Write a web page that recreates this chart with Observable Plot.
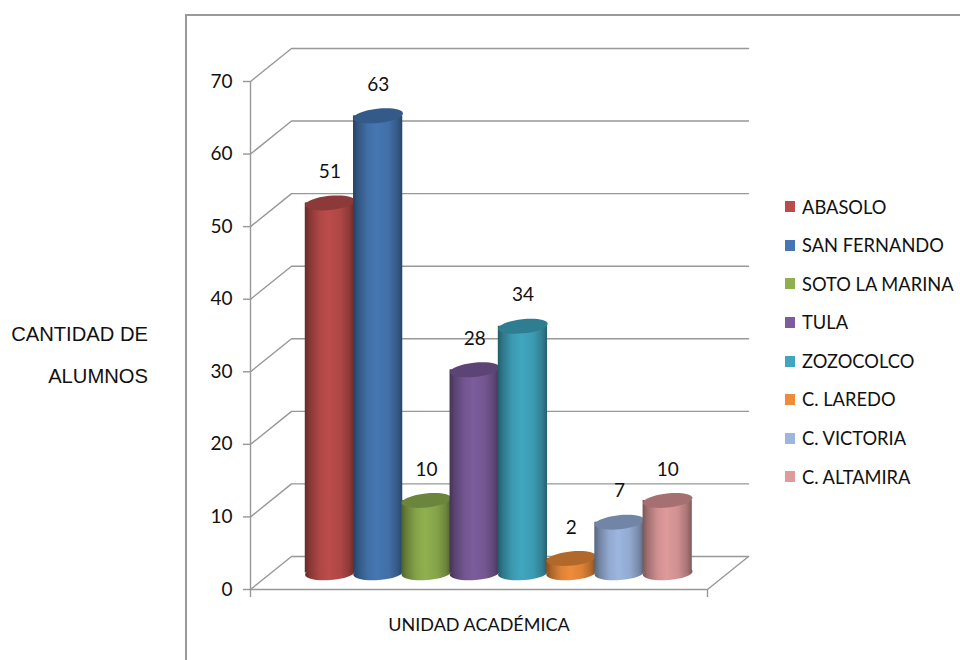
<!DOCTYPE html>
<html lang="es">
<head>
<meta charset="utf-8">
<script src="https://cdn.jsdelivr.net/npm/d3@7"></script>
<script src="https://cdn.jsdelivr.net/npm/@observablehq/plot@0.6"></script>
<style>
  html, body { margin: 0; padding: 0; background: #fff; }
  #page { position: relative; width: 960px; height: 660px; overflow: hidden; }
  #frame { position: absolute; left: 185px; top: 13.5px; right: -4px; bottom: -4px;
           border: 2px solid #999; box-sizing: border-box; }
  #chart { position: absolute; left: 0; top: 0; }
  #ylab { position: absolute; left: 0; top: 313px; width: 148px; text-align: right;
          font: 20.2px/42px "Liberation Sans", sans-serif; color: #111; }
  #legend { position: absolute; left: 785px; top: 187.5px; font: 18.3px/38.6px Lato, sans-serif; color: #111; }
  #legend div { display: flex; align-items: center; height: 38.6px; white-space: nowrap; }
  #legend i { display: inline-block; width: 10px; height: 11px; margin-right: 7px; }
</style>
</head>
<body>
<div id="page">
  <div id="frame"></div>
  <div id="chart"></div>
  <div id="ylab">CANTIDAD DE<br>ALUMNOS</div>
  <div id="legend"></div>
</div>
<script>
const categories = ["ABASOLO", "SAN FERNANDO", "SOTO LA MARINA", "TULA", "ZOZOCOLCO", "C. LAREDO", "C. VICTORIA", "C. ALTAMIRA"];
const values = [51, 63, 10, 28, 34, 2, 7, 10];
const bodyColors = ["#bb4c4a", "#4677b2", "#8fb04f", "#7c5c9c", "#40a6bf", "#ee8c3a", "#9db6e0", "#df9a9b"];
const topColors = ["#8c3a39", "#335a88", "#6c853d", "#5c4576", "#2f7d90", "#b0682b", "#7186a6", "#a66f71"];
const yTicks = [0, 10, 20, 30, 40, 50, 60, 70];

// Layout of the fake 3D box, in scale units
const xMax = 9.47, depthX = 0.85, depthY = 4.55, firstBar = 1.645, barFloor = 2.27;
const gridColor = "#989898";
const rx = 24.9, squash = 0.285;

// tilted ellipse symbol for the cylinder caps
const ellipse = (degrees) => {
  const tilt = degrees * Math.PI / 180;
  return {
    draw(ctx, size) {
      const a = Math.sqrt(size / Math.PI), b = a * squash, k = 0.5523;
      const c = Math.cos(tilt), s = Math.sin(tilt);
      const P = (x, y) => [x * c - y * s, x * s + y * c];
      const curve = (x1, y1, x2, y2, x3, y3) => ctx.bezierCurveTo(...P(x1, y1), ...P(x2, y2), ...P(x3, y3));
      ctx.moveTo(...P(a, 0));
      curve(a, k * b, k * a, b, 0, b);
      curve(-k * a, b, -a, k * b, -a, 0);
      curve(-a, -k * b, -k * a, -b, 0, -b);
      curve(k * a, -b, a, -k * b, a, 0);
      ctx.closePath();
    }
  };
};

const shade = (color, f) => { const c = d3.rgb(color); return d3.rgb(c.r * f, c.g * f, c.b * f).formatHex(); };
const gradients = () => {
  const defs = d3.create("svg:defs");
  bodyColors.forEach((color, i) => {
    const g = defs.append("linearGradient").attr("id", "cyl" + i).attr("x1", 0).attr("x2", 1).attr("y1", 0).attr("y2", 0);
    [[0, 0.55], [0.1, 0.72], [0.3, 0.93], [0.48, 1], [0.72, 0.93], [0.9, 0.76], [1, 0.58]].forEach(([o, f]) =>
      g.append("stop").attr("offset", o).attr("stop-color", shade(color, f)));
  });
  return defs.node();
};

const bars = categories.map((name, i) => ({ name, value: values[i], i, x: firstBar + i }));

const barMarks = bars.flatMap((d) => [
  Plot.dot([d], { x: "x", y: () => barFloor, r: rx, symbol: ellipse(-4), fill: `url(#cyl${d.i})` }),
  Plot.rect([d], { x1: (b) => b.x - 0.51, x2: (b) => b.x + 0.51, y1: () => barFloor, y2: (b) => b.value + barFloor, fill: `url(#cyl${d.i})`, inset: 0 }),
  Plot.dot([d], { x: "x", y: (b) => b.value + barFloor, r: rx, symbol: ellipse(-6), fill: topColors[d.i] })
]);

const chart = Plot.plot({
  width: 960,
  height: 660,
  marginLeft: 250,
  marginRight: 253,
  marginTop: 81,
  marginBottom: 71,
  x: { domain: [0, xMax] },
  y: { domain: [0, 70] },
  style: { fontFamily: "Lato, sans-serif", fontSize: "19px", color: "#111", background: "transparent", overflow: "visible" },
  marks: [
    gradients,
    // back wall and side wall grid lines
    ...yTicks.map((t) => Plot.line(
      [[0, t], [depthX, t + depthY], [xMax + depthX, t + depthY]],
      { x: (p) => p[0], y: (p) => p[1], stroke: gridColor, strokeWidth: 1.4, curve: "linear" })),
    // floor outline
    Plot.line([[0, 0], [xMax, 0], [xMax + depthX, depthY]],
      { x: (p) => p[0], y: (p) => p[1], stroke: gridColor, strokeWidth: 1.4 }),
    Plot.ruleX([0], { y1: 0, y2: 70, stroke: gridColor, strokeWidth: 1.4 }),
    Plot.axisY({ ticks: yTicks, tickSize: 7, tickPadding: 11, stroke: gridColor, fill: "#111", label: null, strokeWidth: 1.4 }),
    Plot.axisX({ ticks: [0, xMax], tickSize: 8, tickFormat: () => "", stroke: gridColor, label: null, strokeWidth: 1.4 }),
    ...barMarks,
    Plot.text(bars, { x: "x", y: (b) => b.value + barFloor, text: (b) => String(b.value), dy: -31, fill: "#111" }),
    Plot.text(["UNIDAD ACADÉMICA"], { x: () => xMax * 0.5, y: () => -4.95, text: (d) => d, fill: "#111", fontSize: 18 })
  ]
});
document.getElementById("chart").append(chart);

const legend = d3.select("#legend");
categories.forEach((name, i) => {
  const row = legend.append("div");
  row.append("i").style("background", bodyColors[i]);
  row.append("span").text(name);
});
</script>
</body>
</html>
